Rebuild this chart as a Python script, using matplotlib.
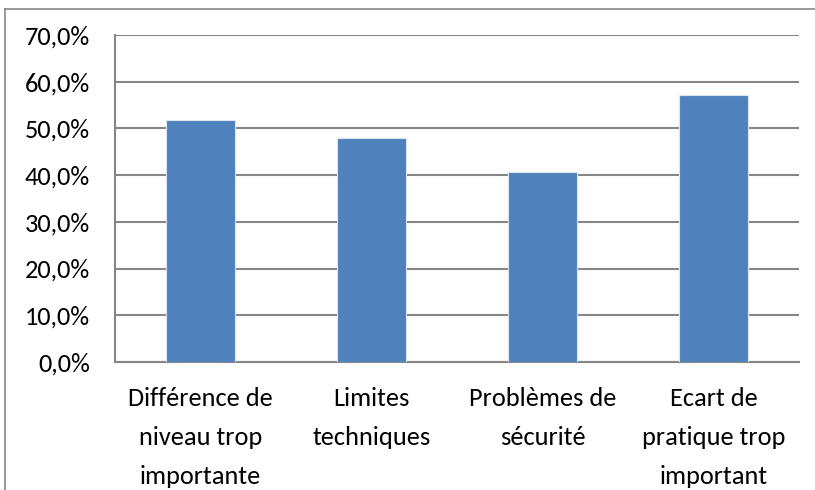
import numpy as np
import matplotlib.pyplot as plt
from matplotlib.lines import Line2D
from matplotlib.ticker import FuncFormatter

categories = ['Différence de\nniveau trop\nimportante', 'Limites\ntechniques',
              'Problèmes de\nsécurité', 'Ecart de\npratique trop\nimportant']
values = [0.517, 0.480, 0.407, 0.572]

plt.rcParams['font.family'] = ['Carlito', 'DejaVu Sans']

fig = plt.figure(figsize=(8.15, 4.9), dpi=100)
ax = fig.add_axes([115 / 815, 128 / 490, 684 / 815, 327 / 490])

x = np.arange(len(categories))
ax.bar(x, values, width=0.4, color='#4f81bd', edgecolor='#dce6f2', linewidth=0.8, zorder=3)

ax.set_xlim(-0.5, len(categories) - 0.5)
ax.set_ylim(0, 0.7)
ax.set_yticks(np.arange(0, 0.71, 0.1))
ax.yaxis.set_major_formatter(FuncFormatter(lambda v, p: f'{v * 100:.1f}%'.replace('.', ',')))
ax.set_xticks(x)
ax.set_xticklabels(categories, fontsize=19, linespacing=1.85)
ax.tick_params(axis='y', labelsize=19, length=0, pad=18)
ax.tick_params(axis='x', length=0, pad=18)

ax.grid(axis='y', color='#868686', linewidth=1.5, zorder=0)
for side in ['top', 'right']:
    ax.spines[side].set_visible(False)
for side in ['left', 'bottom']:
    ax.spines[side].set_color('#868686')
    ax.spines[side].set_linewidth(1.5)

# cadre du graphique
fig.add_artist(Line2D([5 / 815, 5 / 815], [0, 481 / 490], color='#868686', linewidth=1.2))
fig.add_artist(Line2D([5 / 815, 1], [481 / 490, 481 / 490], color='#868686', linewidth=1.2))

plt.savefig('out.png', dpi=100)
